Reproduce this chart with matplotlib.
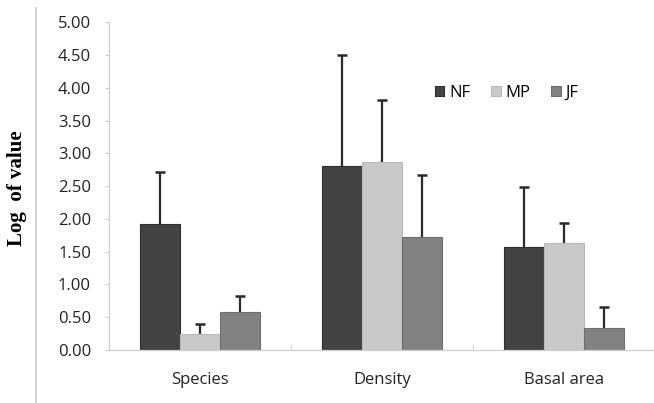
import numpy as np
import matplotlib.pyplot as plt
from matplotlib.lines import Line2D

categories = ["Species", "Density", "Basal area"]
series = ["NF", "MP", "JF"]
nf = [1.92, 2.80, 1.57]
mp = [0.24, 2.86, 1.63]
jf = [0.58, 1.72, 0.34]
nf_err = [0.79, 1.70, 0.92]
mp_err = [0.16, 0.95, 0.30]
jf_err = [0.25, 0.95, 0.32]

colors = ["#434343", "#c9c9c9", "#828282"]
edges = ["#2e2e2e", "#b8b8b8", "#6e6e6e"]

fig = plt.figure(figsize=(6.54, 4.03), dpi=100)
ax = fig.add_axes([0.1667, 0.1315, 0.835, 0.8135])

x = np.arange(len(categories))
w = 0.22
vals = [nf, mp, jf]
errs = [nf_err, mp_err, jf_err]
for k in range(3):
    xs = x + (k - 1) * w
    ax.bar(xs, vals[k], w, color=colors[k], edgecolor=edges[k],
           linewidth=0.8, label=series[k], zorder=2)
    eb = ax.errorbar(xs, vals[k], yerr=[np.zeros(3), errs[k]], fmt="none",
                     ecolor="#2a2a2a", elinewidth=1.6, capsize=3.5,
                     capthick=1.8, zorder=1)
    # only keep the upper cap
    eb[1][0].set_visible(False)

ax.set_xlim(-0.5, 2.5)
ax.set_ylim(0, 5)
ax.set_yticks(np.arange(0, 5.01, 0.5))
ax.set_yticklabels(["%.2f" % v for v in np.arange(0, 5.01, 0.5)],
                   fontsize=12, family="Open Sans", color="#222222")
ax.set_xticks(x)
ax.set_xticklabels(categories, fontsize=12, family="Open Sans", color="#222222")
ax.set_xticks([0.5, 1.5], minor=True)
ax.tick_params(axis="x", which="major", length=0, pad=16)
ax.tick_params(axis="x", which="minor", direction="in", length=4, color="#c8c8c8")
ax.tick_params(axis="y", length=3, color="#c8c8c8", pad=10)

for s in ["top", "right"]:
    ax.spines[s].set_visible(False)
for s in ["left", "bottom"]:
    ax.spines[s].set_color("#cfcfcf")
    ax.spines[s].set_linewidth(0.9)

ax.set_ylabel("Log  of value", family="Liberation Serif", fontweight="bold",
              fontsize=15, labelpad=0)
ax.yaxis.set_label_coords(-0.150, 0.494)

ax.legend(loc="center left", bbox_to_anchor=(0.570, 0.784), ncol=3, frameon=False,
          prop={"family": "Open Sans", "size": 12},
          handlelength=0.55, handleheight=0.55, handletextpad=0.3, columnspacing=1.25)

fig.add_artist(Line2D([0.055, 0.055], [0.0, 0.98], transform=fig.transFigure,
                      color="#c8c8c8", linewidth=1.2))

fig.savefig("out.png", dpi=100)
